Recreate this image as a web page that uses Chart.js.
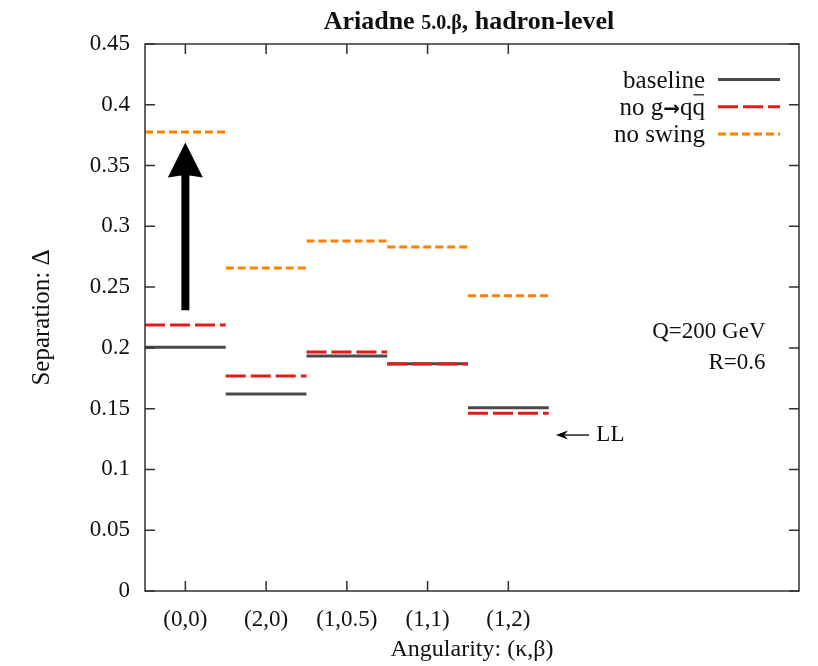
<!DOCTYPE html>
<html>
<head>
<meta charset="utf-8">
<title>Ariadne separation</title>
<script src="https://cdn.jsdelivr.net/npm/chart.js@4/dist/chart.umd.min.js"></script>
<style>
  html, body { margin: 0; padding: 0; background: #fff; }
</style>
</head>
<body>
<canvas id="sepChart" width="818" height="666"></canvas>
<script>
// angularities on the x axis, one step per category
const categories = ['(0,0)', '(2,0)', '(1,0.5)', '(1,1)', '(1,2)'];
// separation values
const baseline = [0.2005, 0.1621, 0.1933, 0.1870, 0.1508];
const noGqq    = [0.2188, 0.1769, 0.1966, 0.1867, 0.1462];
const noSwing  = [0.3776, 0.2657, 0.2879, 0.2830, 0.2429];
const yTicks = [0, 0.05, 0.1, 0.15, 0.2, 0.25, 0.3, 0.35, 0.4, 0.45];

// annotations (data coordinates)
const bigArrow = { x: 0, from: 0.231, to: 0.369 };
const llArrow = { from: 5.0, to: 4.59, y: 0.1283, label: 'LL', labelX: 5.09 };
const notes = [
    { text: 'Q=200 GeV', x: 7.185, y: 0.2131 },
    { text: 'R=0.6', x: 7.185, y: 0.1876 }
];

const FONT = '"Liberation Serif", "Times New Roman", serif';
const C_BASE = '#4a4a4a';
const C_RED = '#e41a1c';
const C_ORANGE = '#ff7f00';

// turn one series into flat steps, broken between categories
function steps(values) {
    const pts = [];
    values.forEach((v, i) => {
        pts.push({ x: i - 0.5, y: v });
        pts.push({ x: i + 0.5, y: v });
        pts.push({ x: i + 0.5, y: null });
    });
    return pts;
}

// legend labels as runs of [text, font]; the arrow comes from a sans font
const series = [
    { label: [['baseline', '25px ' + FONT]], data: baseline, color: C_BASE, dash: [], order: 3 },
    { label: [['no g', '25px ' + FONT], ['\u2192', 'bold 20px "DejaVu Sans"'], ['qq', '25px ' + FONT]],
      data: noGqq, color: C_RED, dash: [20, 5], order: 2 },
    { label: [['no swing', '25px ' + FONT]], data: noSwing, color: C_ORANGE, dash: [8, 4], order: 1 }
];

// draws text runs so that they end at rightX
function drawRuns(ctx, runs, rightX, baseY) {
    let w = 0;
    runs.forEach(r => { ctx.font = r[1]; w += ctx.measureText(r[0]).width; });
    let x = rightX - w;
    ctx.textAlign = 'left';
    runs.forEach(r => {
        ctx.font = r[1];
        ctx.fillText(r[0], x, baseY);
        x += ctx.measureText(r[0]).width;
    });
}

const decor = {
    id: 'decor',
    afterDraw(chart) {
        const { ctx, chartArea: a, scales: { x, y } } = chart;
        ctx.save();

        // frame with inward ticks on all four sides
        ctx.strokeStyle = '#333';
        ctx.lineWidth = 1.5;
        ctx.strokeRect(a.left, a.top, a.right - a.left, a.bottom - a.top);
        ctx.beginPath();
        yTicks.forEach(v => {
            const py = y.getPixelForValue(v);
            ctx.moveTo(a.left, py); ctx.lineTo(a.left + 10, py);
            ctx.moveTo(a.right, py); ctx.lineTo(a.right - 10, py);
        });
        categories.forEach((c, i) => {
            const px = x.getPixelForValue(i);
            ctx.moveTo(px, a.bottom); ctx.lineTo(px, a.bottom - 10);
            ctx.moveTo(px, a.top); ctx.lineTo(px, a.top + 10);
        });
        ctx.stroke();

        // big arrow over the first category
        const cx = x.getPixelForValue(bigArrow.x);
        const tip = y.getPixelForValue(bigArrow.to);
        const base = y.getPixelForValue(bigArrow.from);
        const headLen = 35, headHalf = 17.5, shaftHalf = 4;
        ctx.fillStyle = '#000';
        ctx.beginPath();
        ctx.moveTo(cx - shaftHalf, base);
        ctx.lineTo(cx - shaftHalf, tip + headLen - 2);
        ctx.lineTo(cx - headHalf, tip + headLen);
        ctx.lineTo(cx, tip);
        ctx.lineTo(cx + headHalf, tip + headLen);
        ctx.lineTo(cx + shaftHalf, tip + headLen - 2);
        ctx.lineTo(cx + shaftHalf, base);
        ctx.closePath();
        ctx.fill();

        // LL pointer
        const ly = y.getPixelForValue(llArrow.y);
        const lx0 = x.getPixelForValue(llArrow.from);
        const lx1 = x.getPixelForValue(llArrow.to);
        ctx.strokeStyle = '#000';
        ctx.lineWidth = 1.3;
        ctx.beginPath();
        ctx.moveTo(lx0, ly); ctx.lineTo(lx1 + 4, ly);
        ctx.stroke();
        ctx.beginPath();
        ctx.moveTo(lx1, ly);
        ctx.lineTo(lx1 + 12, ly - 4.5);
        ctx.lineTo(lx1 + 8, ly);
        ctx.lineTo(lx1 + 12, ly + 4.5);
        ctx.closePath();
        ctx.fill();

        ctx.fillStyle = '#111';
        ctx.font = '23px ' + FONT;
        ctx.textBaseline = 'middle';
        ctx.textAlign = 'left';
        ctx.fillText(llArrow.label, x.getPixelForValue(llArrow.labelX), ly);

        ctx.textAlign = 'right';
        notes.forEach(n => ctx.fillText(n.text, x.getPixelForValue(n.x), y.getPixelForValue(n.y)));

        // legend, top right inside the frame
        const textRight = a.right - 94, lineL = a.right - 81, lineR = a.right - 19;
        ctx.textBaseline = 'alphabetic';
        series.forEach((s, i) => {
            const ry = a.top + 35.5 + i * 27.3;
            ctx.fillStyle = '#111';
            drawRuns(ctx, s.label, textRight, ry + 8);
            ctx.strokeStyle = s.color;
            ctx.lineWidth = 3;
            ctx.setLineDash(s.dash);
            ctx.beginPath();
            ctx.moveTo(lineL, ry); ctx.lineTo(lineR, ry);
            ctx.stroke();
            ctx.setLineDash([]);
            if (i === 1) {
                // bar over the anti-quark
                ctx.font = s.label[2][1];
                const wq = ctx.measureText('q').width;
                ctx.strokeStyle = '#111';
                ctx.lineWidth = 1.2;
                ctx.beginPath();
                ctx.moveTo(textRight - wq + 1, ry - 12);
                ctx.lineTo(textRight - 1, ry - 12);
                ctx.stroke();
            }
        });

        // title with a smaller version tag
        const parts = [['Ariadne ', 'bold 26px ' + FONT], ['5.0.\u03b2', 'bold 20px ' + FONT], [', hadron-level', 'bold 26px ' + FONT]];
        let total = 0;
        parts.forEach(p => { ctx.font = p[1]; total += ctx.measureText(p[0]).width; });
        drawRuns(ctx, parts, (a.left + a.right) / 2 + total / 2 - 3, 29);

        ctx.restore();
    }
};

const ctx = document.getElementById('sepChart').getContext('2d');
new Chart(ctx, {
    type: 'line',
    data: {
        datasets: series.map(s => ({
            label: s.label.map(r => r[0]).join(''),
            data: steps(s.data),
            borderColor: s.color,
            borderWidth: 3,
            borderDash: s.dash,
            pointRadius: 0,
            spanGaps: false,
            fill: false,
            tension: 0,
            order: s.order
        }))
    },
    options: {
        responsive: false,
        animation: false,
        layout: { padding: { top: 44, right: 19, bottom: 0, left: 0 } },
        plugins: { legend: { display: false }, tooltip: { enabled: false } },
        scales: {
            x: {
                type: 'linear',
                min: -0.5,
                max: 7.6,
                afterBuildTicks: s => { s.ticks = categories.map((c, i) => ({ value: i })); },
                afterFit: s => { s.height = 75; },
                grid: { display: false, drawTicks: false },
                border: { display: false },
                ticks: {
                    autoSkip: false,
                    maxRotation: 0,
                    padding: 15,
                    color: '#111',
                    font: { family: FONT, size: 23 },
                    callback: (v, i) => categories[i]
                },
                title: {
                    display: true,
                    text: 'Angularity: (\u03ba,\u03b2)',
                    color: '#111',
                    font: { family: FONT, size: 24 },
                    padding: { top: 0, bottom: 2 }
                }
            },
            y: {
                min: 0,
                max: 0.45,
                afterBuildTicks: s => { s.ticks = yTicks.map(v => ({ value: v })); },
                afterFit: s => { s.width = 145; },
                grid: { display: false, drawTicks: false },
                border: { display: false },
                ticks: {
                    padding: 15,
                    color: '#111',
                    font: { family: FONT, size: 23 },
                    callback: v => String(+v.toFixed(2))
                },
                title: {
                    display: true,
                    text: 'Separation: \u0394',
                    color: '#111',
                    font: { family: FONT, size: 25 },
                    padding: { top: 27, bottom: 0 }
                }
            }
        }
    },
    plugins: [decor]
});
</script>
</body>
</html>
